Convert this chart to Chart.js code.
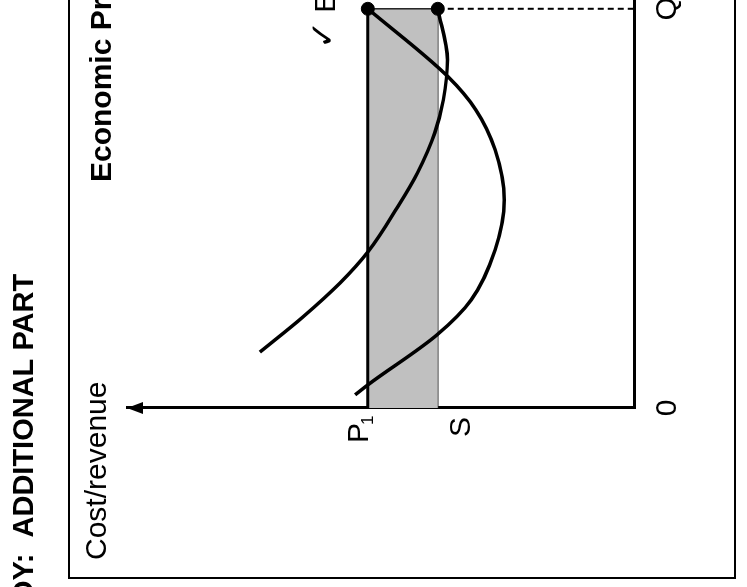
<!DOCTYPE html>
<html>
<head>
<meta charset="utf-8">
<script src="https://cdn.jsdelivr.net/npm/chart.js@4.4.1/dist/chart.umd.min.js"></script>
<style>
  html, body { margin: 0; padding: 0; background: #fff; overflow: hidden; }
  /* the scanned diagram is turned a quarter turn anticlockwise */
  #wrap {
    position: absolute; left: 0; top: 0;
    width: 587px; height: 747px;
    transform-origin: 0 0;
    transform: translateY(587px) rotate(-90deg);
  }
</style>
</head>
<body>
<div id="wrap"><canvas id="chart" width="587" height="747"></canvas></div>
<script>
// Quantity axis
const quantityTicks = [0, 10];
const quantityTickLabels = ['0', 'Q'];

// Cost/revenue axis
const priceP1 = 5.25;
const costS = 3.87;
const costTickLabels = ['P', 'S'];

// Marginal cost curve (U shaped)
const mcQuantity = [0.33, 0.58, 1.83, 2.71, 3.96, 5.21, 6.47, 7.47, 8.30, 10];
const mcCost     = [5.50, 5.25, 3.89, 3.21, 2.74, 2.56, 2.74, 3.12, 3.67, 5.25];

// Average cost curve
const acQuantity = [1.40, 2.28, 3.13, 3.91, 5.04, 5.89, 6.89, 7.72, 8.72, 10];
const acCost     = [7.38, 6.53, 5.80, 5.25, 4.66, 4.27, 3.93, 3.76, 3.68, 3.87];

const FONT = '"Liberation Sans", Arial, sans-serif';

function toPoints(xs, ys) {
    return xs.map((x, i) => ({ x: x, y: ys[i] }));
}

const qEnd = quantityTicks[1];

// Frame, arrow and all the text labels
const diagramPlugin = {
    id: 'diagram',
    afterDraw(chart) {
        const ctx = chart.ctx;
        const xs = chart.scales.x;
        const ys = chart.scales.y;
        const area = chart.chartArea;
        ctx.save();
        ctx.fillStyle = '#000';
        ctx.strokeStyle = '#000';

        // outer frame
        ctx.lineWidth = 2;
        ctx.strokeRect(9, 69, 700, 666);

        // arrow head on cost axis
        ctx.beginPath();
        ctx.moveTo(area.left, area.top);
        ctx.lineTo(area.left - 6, area.top + 16);
        ctx.lineTo(area.left + 6, area.top + 16);
        ctx.closePath();
        ctx.fill();

        ctx.textBaseline = 'alphabetic';

        // heading outside the frame
        ctx.font = 'bold 29px ' + FONT;
        ctx.textAlign = 'left';
        ctx.fillText('OY:  ADDITIONAL PART', -16, 33);

        // chart title
        ctx.font = 'bold 30px ' + FONT;
        ctx.fillText('Economic Profit', 405, 111);

        // axis title
        ctx.font = '30px ' + FONT;
        ctx.fillText('Cost/revenue', 27, 106);

        // quantity tick labels
        const axisY = ys.getPixelForValue(0);
        ctx.textAlign = 'center';
        quantityTicks.forEach((q, i) => {
            ctx.fillText(quantityTickLabels[i], xs.getPixelForValue(q), axisY + 42);
        });

        // cost tick labels
        const pY = ys.getPixelForValue(priceP1);
        const sY = ys.getPixelForValue(costS);
        ctx.textAlign = 'left';
        ctx.fillText(costTickLabels[0], area.left - 35, pY);
        ctx.font = '17px ' + FONT;
        ctx.fillText('1', area.left - 17, pY + 5);
        ctx.font = '30px ' + FONT;
        ctx.textAlign = 'right';
        ctx.fillText(costTickLabels[1], area.left - 9, sY + 32);

        // E label with tick
        const qX = xs.getPixelForValue(qEnd);
        ctx.textAlign = 'left';
        ctx.fillText('E', qX - 4, pY - 33);
        ctx.font = '34px "DejaVu Sans", sans-serif';
        ctx.textAlign = 'center';
        ctx.fillText('\u2713', qX - 26, pY - 34);

        ctx.restore();
    }
};

new Chart(document.getElementById('chart'), {
    type: 'line',
    data: {
        datasets: [
            {
                label: 'Dots',
                data: [{ x: qEnd, y: priceP1 }, { x: qEnd, y: costS }],
                showLine: false,
                pointRadius: 6.5,
                pointBackgroundColor: '#000',
                pointBorderColor: '#000'
            },
            {
                label: 'MC',
                data: toPoints(mcQuantity, mcCost),
                borderColor: '#000',
                borderWidth: 3.5,
                pointRadius: 0,
                cubicInterpolationMode: 'monotone',
                fill: false
            },
            {
                label: 'AC',
                data: toPoints(acQuantity, acCost),
                borderColor: '#000',
                borderWidth: 3.5,
                pointRadius: 0,
                cubicInterpolationMode: 'monotone',
                fill: false
            },
            {
                label: 'Q dashed',
                data: [{ x: qEnd, y: costS }, { x: qEnd, y: 0 }],
                borderColor: '#000',
                borderWidth: 2,
                borderDash: [6, 4],
                pointRadius: 0,
                fill: false
            },
            {
                label: 'Profit edge',
                data: [{ x: qEnd, y: priceP1 }, { x: qEnd, y: costS }],
                borderColor: '#222',
                borderWidth: 1.5,
                pointRadius: 0,
                fill: false
            },
            {
                label: 'P1',
                data: [{ x: 0, y: priceP1 }, { x: qEnd, y: priceP1 }],
                borderColor: '#000',
                borderWidth: 3,
                pointRadius: 0,
                backgroundColor: '#c0c0c0',
                fill: '+1'
            },
            {
                label: 'S',
                data: [{ x: 0, y: costS }, { x: qEnd, y: costS }],
                borderColor: '#222',
                borderWidth: 1.5,
                pointRadius: 0,
                fill: false
            }
        ]
    },
    options: {
        responsive: false,
        devicePixelRatio: 1,
        animation: false,
        events: [],
        layout: { autoPadding: false, padding: { top: 127, left: 0, right: 0, bottom: 0 } },
        plugins: {
            legend: { display: false },
            tooltip: { enabled: false },
            title: { display: false }
        },
        scales: {
            x: {
                type: 'linear',
                min: 0,
                max: 10.22,
                grid: { display: false, drawTicks: false },
                border: { display: true, color: '#000', width: 3 },
                ticks: { display: false },
                afterFit: function(scale) { scale.height = 113; }
            },
            y: {
                type: 'linear',
                min: 0,
                max: 10,
                grid: { display: false, drawTicks: false },
                border: { display: true, color: '#000', width: 3 },
                ticks: { display: false },
                afterFit: function(scale) { scale.width = 179; }
            }
        }
    },
    plugins: [diagramPlugin]
});
</script>
</body>
</html>
